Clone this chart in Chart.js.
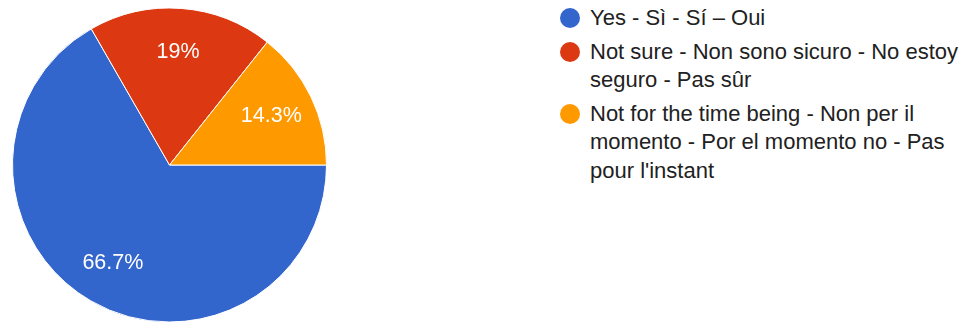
<!DOCTYPE html>
<html>
<head>
<meta charset="utf-8">
<script src="https://cdn.jsdelivr.net/npm/chart.js@4/dist/chart.umd.min.js"></script>
<style>
  html, body { margin: 0; padding: 0; background: #fff; overflow: hidden; }
  body { width: 965px; height: 322px; position: relative; font-family: "Liberation Sans", Arial, sans-serif; }
  #pie { position: absolute; left: 0; top: 0; }
  #leyenda { position: absolute; left: 560px; top: 4px; width: 405px; color: #212121; font-size: 22px; line-height: 28.5px; }
  .item { display: flex; align-items: flex-start; margin-bottom: 5px; }
  .punto { flex: none; width: 20px; height: 20px; border-radius: 50%; margin-top: 4px; margin-right: 10px; }
  .texto { width: 372px; }
</style>
</head>
<body>
<canvas id="pie" width="339" height="330"></canvas>
<div id="leyenda"></div>
<script>
  // respuestas (Google Forms)
  const categorias = [
    'Yes - Sì - Sí – Oui',
    'Not sure - Non sono sicuro - No estoy seguro - Pas sûr',
    'Not for the time being - Non per il momento - Por el momento no - Pas pour l\'instant'
  ];
  const porcentajes = [66.7, 19, 14.3];
  const colores = ['#3366cc', '#dc3912', '#ff9900'];

  // etiquetas de % dentro de cada porción
  const etiquetasPct = {
    id: 'etiquetasPct',
    afterDatasetsDraw(chart) {
      const ctx = chart.ctx;
      const arcos = chart.getDatasetMeta(0).data;
      ctx.save();
      ctx.fillStyle = '#fff';
      ctx.font = '21.5px "Liberation Sans", Arial, sans-serif';
      ctx.textAlign = 'center';
      ctx.textBaseline = 'middle';
      arcos.forEach((a, i) => {
        const p = a.getProps(['x', 'y', 'startAngle', 'endAngle', 'outerRadius'], true);
        const medio = (p.startAngle + p.endAngle) / 2;
        const r = p.outerRadius * 0.72;
        ctx.fillText(porcentajes[i] + '%', p.x + Math.cos(medio) * r, p.y + Math.sin(medio) * r);
      });
      ctx.restore();
    }
  };

  new Chart(document.getElementById('pie'), {
    type: 'pie',
    data: {
      labels: categorias,
      datasets: [{ data: porcentajes, backgroundColor: colores, borderColor: '#fff', borderWidth: 1 }]
    },
    options: {
      responsive: false, animation: false, rotation: 90,
      layout: { padding: { left: 12, right: 12, top: 7.5, bottom: 7.5 } },
      plugins: { legend: { display: false }, tooltip: { enabled: false } }
    },
    plugins: [etiquetasPct]
  });

  document.getElementById('leyenda').innerHTML = categorias.map((c, i) =>
    `<div class="item"><span class="punto" style="background:${colores[i]}"></span><span class="texto">${c}</span></div>`
  ).join('');
</script>
</body>
</html>
